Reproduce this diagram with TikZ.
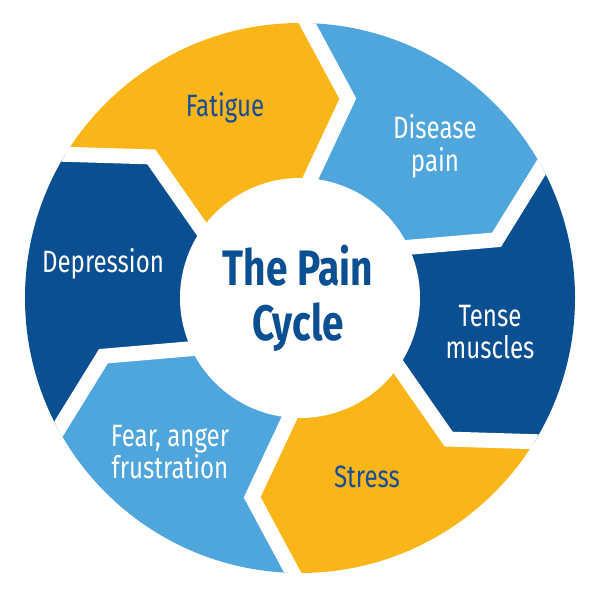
\documentclass[tikz,border=0pt]{standalone}
\usepackage{fontspec}
\setsansfont{Fira Sans}[FakeStretch=0.78]
\usetikzlibrary{calc}
\definecolor{painyellow}{RGB}{250,182,24}
\definecolor{painlight}{RGB}{78,166,220}
\definecolor{paindark}{RGB}{10,79,145}
\definecolor{paintext}{RGB}{22,76,150}
\tikzstyle{seglabel}=[font=\sffamily\fontsize{31}{33}\selectfont, align=center, text=white]

\begin{document}
\begin{tikzpicture}[x=1bp,y=1bp,
    gap/.style={draw=white, line width=15bp, line join=miter},
    onyellow/.style={seglabel, text=paintext}]
    \useasboundingbox (-300,-298) rectangle (300,298);
    % ring segments, clockwise from Fatigue
    \begin{scope}
        \clip (0,0) circle (275);
        \foreach \col [count=\k from 0] in {painyellow,painlight,paindark,painyellow,painlight,paindark} {
            \pgfmathsetmacro{\a}{148.5-60*\k}
            \pgfmathsetmacro{\b}{\a-60}
            \fill[\col] (0,0) -- (\a-3.5:120) -- (\a-12:205) -- (\a:275) -- (\a:340)
                -- (\a-30:400) -- (\b:340) -- (\b:275) -- (\b-12:205) -- (\b-3.5:120) -- cycle;
        }
        \foreach \k in {0,...,5} {
            \pgfmathsetmacro{\a}{148.5-60*\k}
            \coordinate (in\k) at (\a-3.5:120);
            \coordinate (bend\k) at (\a-12:205);
            \coordinate (out\k) at (\a:275);
            \draw[gap] ($(bend\k)!1.3!(in\k)$) -- (bend\k) -- ($(bend\k)!1.3!(out\k)$);
        }
    \end{scope}
    \fill[white] (0,0) circle (120);
    % labels
    \node[onyellow] (fatigue) at (-75,190) {Fatigue};
    \node[seglabel] (disease) at (135,152) {Disease\\pain};
    \node[seglabel] (tense) at (190,-34) {Tense\\muscles};
    \node[onyellow] (stress) at (67,-179) {Stress};
    \node[seglabel] (fear) at (-130,-154) {Fear, anger\\frustration};
    \node[seglabel] (depression) at (-197,34) {Depression};
    \node[font=\sffamily\bfseries\fontsize{50}{55}\selectfont, text=paindark, align=center] (title) at (-2,0) {The Pain\\Cycle};
\end{tikzpicture}
\end{document}
